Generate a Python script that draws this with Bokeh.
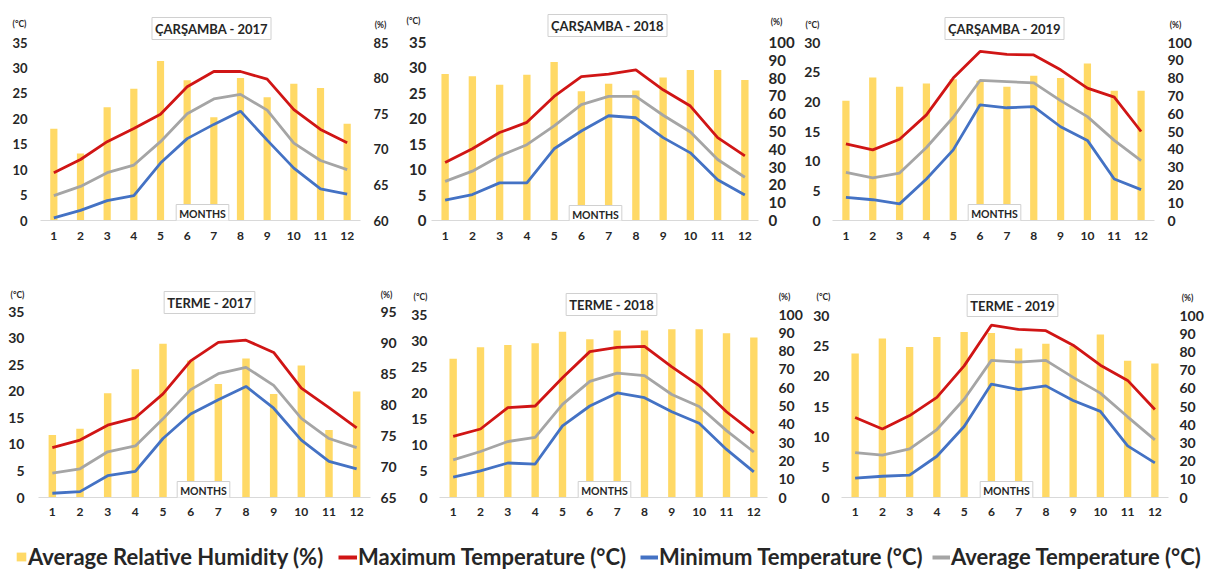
from bokeh.plotting import figure
from bokeh.models import Range1d, LinearAxis, FixedTicker, Label, Legend, LegendItem, ColumnDataSource
from bokeh.layouts import column, row
from bokeh.embed import file_html
from bokeh.resources import INLINE

# ---------------- data ----------------
months = list(range(1, 13))

carsamba_2017_hum = [72.9, 69.4, 75.9, 78.5, 82.4, 79.7, 74.5, 80.0, 77.3, 79.2, 78.6, 73.6]
carsamba_2017_max = [9.4, 12.0, 15.5, 18.1, 20.9, 26.3, 29.3, 29.3, 27.8, 21.8, 17.9, 15.3]
carsamba_2017_min = [0.5, 2.0, 3.9, 4.9, 11.3, 16.1, 18.9, 21.5, 15.8, 10.3, 6.2, 5.2]
carsamba_2017_avg = [4.9, 6.7, 9.4, 10.9, 15.5, 21.0, 23.9, 24.8, 21.7, 15.2, 11.8, 10.0]

carsamba_2018_hum = [82.3, 81.0, 76.2, 81.9, 89.0, 72.6, 76.8, 73.1, 80.4, 84.5, 84.5, 79.0]
carsamba_2018_max = [11.4, 14.1, 17.3, 19.3, 24.4, 28.3, 28.8, 29.6, 25.7, 22.5, 16.3, 12.7]
carsamba_2018_min = [4.0, 5.1, 7.4, 7.4, 14.1, 17.6, 20.6, 20.2, 16.3, 13.3, 8.0, 5.0]
carsamba_2018_avg = [7.7, 9.7, 12.7, 14.9, 18.6, 22.8, 24.4, 24.4, 20.7, 17.4, 12.0, 8.5]

carsamba_2019_hum = [67.3, 80.4, 75.1, 77.0, 79.4, 78.5, 75.1, 81.3, 80.0, 88.2, 72.9, 72.9]
carsamba_2019_max = [12.9, 11.9, 13.7, 17.8, 24.0, 28.5, 28.0, 27.9, 25.4, 22.3, 20.8, 15.0]
carsamba_2019_min = [3.9, 3.5, 2.8, 7.0, 11.9, 19.5, 19.0, 19.2, 15.8, 13.5, 7.0, 5.2]
carsamba_2019_avg = [8.1, 7.2, 8.0, 12.3, 17.4, 23.6, 23.4, 23.2, 20.2, 17.5, 13.5, 10.1]

terme_2017_hum = [75.1, 76.1, 81.8, 85.7, 89.8, 87.1, 83.3, 87.4, 81.7, 86.3, 75.9, 82.1]
terme_2017_max = [9.4, 10.8, 13.6, 15.0, 19.5, 25.7, 29.2, 29.6, 27.3, 20.6, 16.9, 13.1]
terme_2017_min = [0.8, 1.1, 4.1, 4.9, 11.1, 15.7, 18.4, 20.9, 16.8, 10.8, 6.8, 5.4]
terme_2017_avg = [4.6, 5.4, 8.6, 9.7, 14.8, 20.3, 23.3, 24.5, 21.1, 14.9, 11.1, 9.4]

terme_2018_hum = [75.8, 82.1, 83.4, 84.3, 90.6, 86.5, 91.2, 91.2, 91.9, 91.9, 89.7, 87.5]
terme_2018_max = [11.7, 13.1, 17.2, 17.5, 22.9, 27.9, 28.7, 28.9, 25.0, 21.4, 16.4, 12.3]
terme_2018_min = [3.9, 5.1, 6.6, 6.4, 13.7, 17.5, 20.0, 19.1, 16.4, 14.2, 9.2, 4.9]
terme_2018_avg = [7.2, 8.8, 10.7, 11.5, 17.8, 22.2, 23.8, 23.3, 19.7, 17.4, 12.8, 8.7]

terme_2019_hum = [79.1, 87.3, 82.7, 88.2, 90.9, 90.4, 81.8, 84.5, 83.3, 89.5, 75.1, 73.6]
terme_2019_max = [13.2, 11.3, 13.5, 16.5, 21.7, 28.4, 27.7, 27.5, 25.1, 21.8, 19.3, 14.5]
terme_2019_min = [3.2, 3.5, 3.7, 6.8, 11.7, 18.7, 17.8, 18.4, 16.0, 14.2, 8.5, 5.7]
terme_2019_avg = [7.4, 7.0, 8.0, 11.2, 16.2, 22.6, 22.3, 22.6, 19.8, 17.2, 13.3, 9.5]

titles = ["ÇARŞAMBA - 2017", "ÇARŞAMBA - 2018", "ÇARŞAMBA - 2019",
          "TERME - 2017", "TERME - 2018", "TERME - 2019"]
legend_labels = ["Average Relative Humidity (%)", "Maximum Temperature (°C)",
                 "Minimum Temperature (°C)", "Average Temperature (°C)"]

# ---------------- style ----------------
FONT = "Lato"
TXT = "#262626"
BAR = "#FFD966"
RED = "#D01515"
BLUE = "#4472C4"
GRAY = "#A5A5A5"

# frames of one row share top and bottom borders (Bokeh aligns them)
ROW_BORDERS = {0: (42, 30), 1: (61, 33)}

# ftd: wanted pixel row (in figure) of the top tick
panels = [
    dict(title=titles[0], hum=carsamba_2017_hum, tmax=carsamba_2017_max, tmin=carsamba_2017_min, tavg=carsamba_2017_avg,
         ttop=35, hr=(60, 85), hstep=5, rowi=0, origin=(0, 0), size=(395, 250), lr=(40, 35), ftd=42,
         fs=13, ls=13, rs=13, xs=11, tpos=(211, 28), cpos=(19, 24), ppos=(380, 25), mpos=(202, 213)),
    dict(title=titles[1], hum=carsamba_2018_hum, tmax=carsamba_2018_max, tmin=carsamba_2018_min, tavg=carsamba_2018_avg,
         ttop=35, hr=(0, 100), hstep=10, rowi=0, origin=(395, 0), size=(405, 250), lr=(36, 42), ftd=38,
         fs=15, ls=5, rs=10, xs=11, tpos=(607, 25), cpos=(413, 21), ppos=(776, 22), mpos=(595, 214)),
    dict(title=titles[2], hum=carsamba_2019_hum, tmax=carsamba_2019_max, tmin=carsamba_2019_min, tavg=carsamba_2019_avg,
         ttop=30, hr=(0, 100), hstep=10, rowi=0, origin=(800, 0), size=(406, 250), lr=(32, 52), ftd=42,
         fs=14, ls=12, rs=13, xs=11, tpos=(1004, 28), cpos=(812, 25), ppos=(1175, 25), mpos=(994, 213)),
    dict(title=titles[3], hum=terme_2017_hum, tmax=terme_2017_max, tmin=terme_2017_min, tavg=terme_2017_avg,
         ttop=35, hr=(65, 95), hstep=5, rowi=1, origin=(0, 250), size=(400, 280), lr=(38, 30), ftd=61,
         fs=14, ls=14, rs=10, xs=10, tpos=(209, 302), cpos=(17, 295), ppos=(386, 295), mpos=(203, 490)),
    dict(title=titles[4], hum=terme_2018_hum, tmax=terme_2018_max, tmin=terme_2018_min, tavg=terme_2018_avg,
         ttop=35, hr=(0, 100), hstep=10, rowi=1, origin=(400, 250), size=(405, 280), lr=(39, 36), ftd=64,
         fs=14, ls=12, rs=11, xs=10, tpos=(611, 304), cpos=(420, 297), ppos=(784, 297), mpos=(604, 490)),
    dict(title=titles[5], hum=terme_2019_hum, tmax=terme_2019_max, tmin=terme_2019_min, tavg=terme_2019_avg,
         ttop=30, hr=(0, 100), hstep=10, rowi=1, origin=(805, 250), size=(401, 280), lr=(36, 36), ftd=65,
         fs=14, ls=12, rs=11, xs=10, tpos=(1012, 305), cpos=(823, 297), ppos=(1187, 298), mpos=(1006, 490)),
]

TITLE_FS = 13
TITLE_PAD = 3
UNIT_FS = 8.5
EM = 1.2  # text box height per px of font size (Lato ascent + descent)


def style_axis(ax, fs, standoff):
    ax.axis_line_color = None
    ax.major_tick_line_color = None
    ax.minor_tick_line_color = None
    ax.major_tick_out = 0
    ax.major_tick_in = 0
    ax.minor_tick_out = 0
    ax.major_label_text_font = FONT
    ax.major_label_text_font_style = "bold"
    ax.major_label_text_font_size = f"{fs}px"
    ax.major_label_text_color = TXT
    ax.major_label_standoff = standoff


def make_panel(s):
    W, H = s["size"]
    bl, br = s["lr"]
    bt, bb = ROW_BORDERS[s["rowi"]]
    ox, oy = s["origin"]
    lo, hi = s["hr"]
    fb = H - bb                      # frame bottom (figure px)
    ftd = max(s["ftd"], bt)          # wanted pixel of the top tick
    k = (fb - bt) / (fb - ftd)       # stretch so the top tick lands on ftd
    p = figure(width=W, height=H, output_backend="svg", toolbar_location=None,
               x_range=Range1d(0.5, 12.5), y_range=Range1d(0, s["ttop"] * k),
               x_axis_location=None, y_axis_location=None,
               min_border_left=bl, min_border_right=br,
               min_border_top=bt, min_border_bottom=bb,
               outline_line_color=None, background_fill_color="white", border_fill_color="white")
    p.grid.visible = False
    p.extra_y_ranges = {"hum": Range1d(lo, lo + (hi - lo) * k)}

    src = ColumnDataSource(dict(m=months, hum=s["hum"], tmax=s["tmax"], tmin=s["tmin"], tavg=s["tavg"]))
    p.vbar(x="m", top="hum", bottom=lo, width=0.27, fill_color=BAR, line_color=None,
           y_range_name="hum", source=src)
    p.line("m", "tmax", source=src, line_color=RED, line_width=2.8)
    p.line("m", "tmin", source=src, line_color=BLUE, line_width=2.8)
    p.line("m", "tavg", source=src, line_color=GRAY, line_width=2.8)

    la = LinearAxis(ticker=FixedTicker(ticks=list(range(0, s["ttop"] + 1, 5))))
    style_axis(la, s["fs"], s["ls"])
    p.add_layout(la, "left")
    ra = LinearAxis(y_range_name="hum", ticker=FixedTicker(ticks=list(range(lo, hi + 1, s["hstep"]))))
    style_axis(ra, s["fs"], s["rs"])
    p.add_layout(ra, "right")
    xa = LinearAxis(ticker=FixedTicker(ticks=months))
    style_axis(xa, 12, s["xs"])
    xa.axis_line_color = "#D9D9D9"
    xa.axis_line_width = 1
    p.add_layout(xa, "below")

    def make_label(X, ys, text, size, box=False, pad=0):
        lab = Label(x=X - (ox + bl), y=ys, x_units="screen", y_units="screen",
                    text=text, text_font=FONT, text_font_style="bold", text_font_size=f"{size}px",
                    text_color=TXT, text_align="center", text_baseline="middle")
        if box:
            lab.background_fill_color = "white"
            lab.border_line_color = "#D0D0D0"
            lab.padding = pad
        return lab

    # Texts above the frame sit in the "above" panel: its slots are stacked upward from
    # the frame top in the order they are added; a label's y counts up from its slot bottom.
    h_title = EM * TITLE_FS + 2 * TITLE_PAD
    h_unit = EM * UNIT_FS
    frame_top = oy + bt
    slot_title = frame_top
    slot_deg = frame_top - h_title
    slot_pct = frame_top - h_title - h_unit
    p.add_layout(make_label(s["tpos"][0], slot_title - s["tpos"][1], s["title"], TITLE_FS,
                            box=True, pad=TITLE_PAD), "above")
    p.add_layout(make_label(s["cpos"][0], slot_deg - s["cpos"][1], "(°C)", UNIT_FS), "above")
    p.add_layout(make_label(s["ppos"][0], slot_pct - s["ppos"][1], "(%)", UNIT_FS), "above")

    # MONTHS tag inside the frame, relative to the frame bottom
    X, Y = s["mpos"]
    p.add_layout(make_label(X, (oy + fb) - Y, "MONTHS", 10.5, box=True, pad=3))
    return p


figs = [make_panel(s) for s in panels]

# ---------------- legend strip ----------------
lg = figure(width=1206, height=41, output_backend="svg", toolbar_location=None,
            x_axis_location=None, y_axis_location=None, min_border=0,
            x_range=Range1d(0, 1), y_range=Range1d(0, 1),
            outline_line_color=None, background_fill_color="white", border_fill_color="white")
lg.grid.visible = False
# legend-only renderers: their single point lies outside the visible range
r_bar = lg.vbar(x=[-5], top=[-5], bottom=[-6], width=0.5, fill_color=BAR, line_color=None)
r_max = lg.line(x=[-5, -4], y=[-5, -5], line_color=RED, line_width=4)
r_min = lg.line(x=[-5, -4], y=[-5, -5], line_color=BLUE, line_width=4)
r_avg = lg.line(x=[-5, -4], y=[-5, -5], line_color=GRAY, line_width=4)

for r, lab, x, gw, gh in [(r_bar, legend_labels[0], 15, 12, 11),
                          (r_max, legend_labels[1], 338, 19, 22),
                          (r_min, legend_labels[2], 640, 18, 22),
                          (r_avg, legend_labels[3], 932, 18, 22)]:
    leg = Legend(items=[LegendItem(label=lab, renderers=[r])], location=(x, 1),
                 orientation="horizontal", glyph_width=gw, glyph_height=gh, label_standoff=1,
                 padding=0, margin=0, spacing=0, border_line_color=None, background_fill_alpha=0,
                 label_text_font=FONT, label_text_font_style="bold", label_text_font_size="22px",
                 label_text_color=TXT, label_height=22)
    lg.add_layout(leg)

layout = column(row(figs[0], figs[1], figs[2]), row(figs[3], figs[4], figs[5]), lg)

with open("out.html", "w") as f:
    f.write(file_html(layout, INLINE))
